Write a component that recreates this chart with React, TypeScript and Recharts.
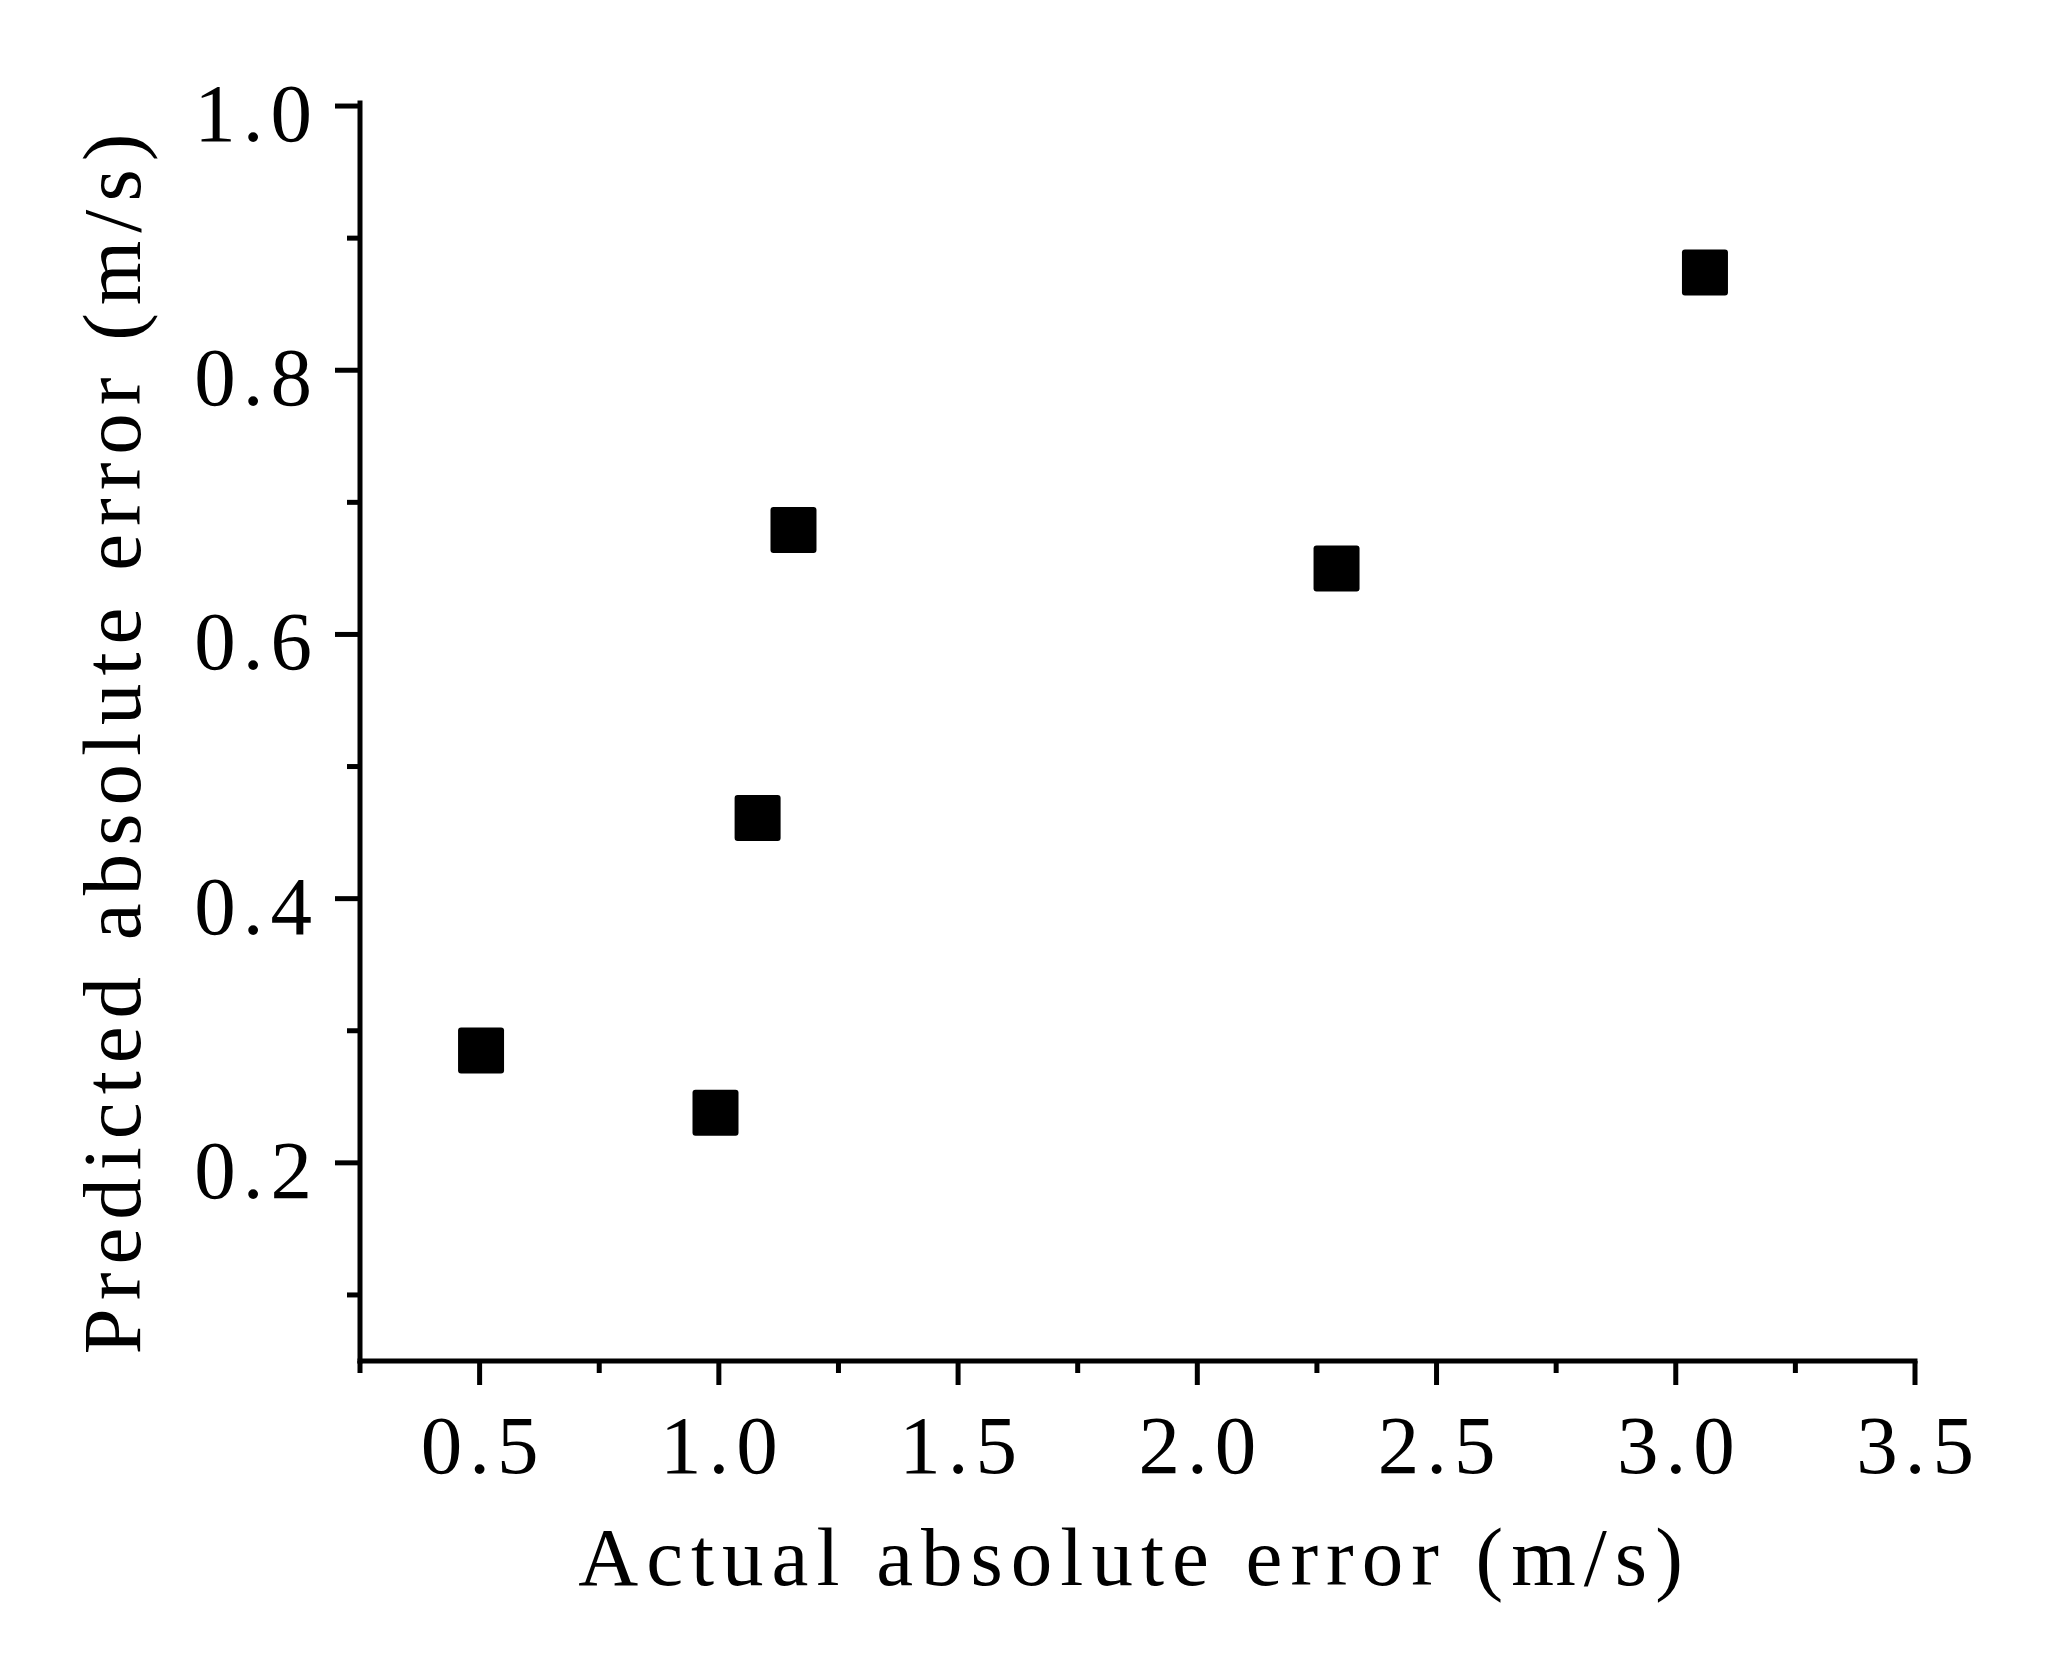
import React from 'react';
import { ScatterChart, Scatter, XAxis, YAxis } from 'recharts';

const actualError = [0.503, 0.993, 1.081, 1.156, 2.291, 3.061];
const predictedError = [0.285, 0.238, 0.461, 0.679, 0.65, 0.874];
const xMajorTicks = [0.5, 1.0, 1.5, 2.0, 2.5, 3.0, 3.5];
const xMinorTicks = [0.25, 0.75, 1.25, 1.75, 2.25, 2.75, 3.25];
const yMajorTicks = [0.2, 0.4, 0.6, 0.8, 1.0];
const yMinorTicks = [0.1, 0.3, 0.5, 0.7, 0.9];
const xLabelText = 'Actual absolute error (m/s)';
const yLabelText = 'Predicted absolute error (m/s)';

const data = actualError.map((x, i) => ({ x, y: predictedError[i] }));

const FONT = '"Liberation Serif", "Times New Roman", serif';
const FS = 83;
const LS_TICK = 7;
const LS_LABEL = 8;

const isMajor = (arr: number[], v: number) => arr.some((m) => Math.abs(m - v) < 1e-6);

const XTick = (props: any) => {
  const { x, y, payload } = props;
  const major = isMajor(xMajorTicks, payload.value);
  return (
    <g>
      <line x1={x} x2={x} y1={y} y2={y + (major ? 24 : 12)} stroke="#000" strokeWidth={5} />
      {major && (
        <text x={x + LS_TICK / 2} y={y + 112} textAnchor="middle" fontFamily={FONT} fontSize={FS} letterSpacing={LS_TICK} fill="#000">
          {payload.value.toFixed(1)}
        </text>
      )}
    </g>
  );
};

const YTick = (props: any) => {
  const { x, y, payload } = props;
  const major = isMajor(yMajorTicks, payload.value);
  return (
    <g>
      <line x1={x} x2={x - (major ? 25 : 13)} y1={y} y2={y} stroke="#000" strokeWidth={5} />
      {major && (
        <text x={x - 41} y={y + 35} textAnchor="end" fontFamily={FONT} fontSize={FS} letterSpacing={LS_TICK} fill="#000">
          {payload.value.toFixed(1)}
        </text>
      )}
    </g>
  );
};

const SquareShape = (props: any) => {
  const { cx, cy } = props;
  const s = 46;
  return <rect x={cx - s / 2} y={cy - s / 2} width={s} height={s} rx={3} ry={3} fill="#000" />;
};

const XLabel = (props: any) => {
  const vb = props.viewBox;
  return (
    <text x={vb.x + vb.width / 2 - 3} y={vb.y + 224} textAnchor="middle" fontFamily={FONT} fontSize={FS} letterSpacing={LS_LABEL} fill="#000">
      {xLabelText}
    </text>
  );
};

const YLabel = (props: any) => {
  const vb = props.viewBox;
  const cx = vb.x + 132;
  const cy = vb.y + vb.height / 2 + 8;
  return (
    <text x={cx} y={cy} transform={`rotate(-90, ${cx}, ${cy})`} textAnchor="middle" fontFamily={FONT} fontSize={FS} letterSpacing={LS_LABEL} fill="#000">
      {yLabelText}
    </text>
  );
};

export default function App() {
  return (
    <ScatterChart width={2040} height={1643} margin={{ top: 95, right: 133, bottom: 0, left: 0 }}>
      <XAxis
        type="number"
        dataKey="x"
        domain={[0.25, 3.5]}
        ticks={[...xMinorTicks, ...xMajorTicks].sort((a, b) => a - b)}
        interval={0}
        height={290}
        tickSize={0}
        tickMargin={0}
        tickLine={false}
        tick={<XTick />}
        axisLine={{ stroke: '#000', strokeWidth: 5, strokeLinecap: 'square' }}
        label={<XLabel />}
        allowDataOverflow
      />
      <YAxis
        type="number"
        dataKey="y"
        domain={[0.05, 1.0023]}
        ticks={[...yMinorTicks, ...yMajorTicks].sort((a, b) => a - b)}
        interval={0}
        width={352}
        tickSize={0}
        tickMargin={0}
        tickLine={false}
        tick={<YTick />}
        axisLine={{ stroke: '#000', strokeWidth: 5, strokeLinecap: 'square' }}
        label={<YLabel />}
        allowDataOverflow
      />
      <Scatter data={data} shape={<SquareShape />} isAnimationActive={false} />
    </ScatterChart>
  );
}
